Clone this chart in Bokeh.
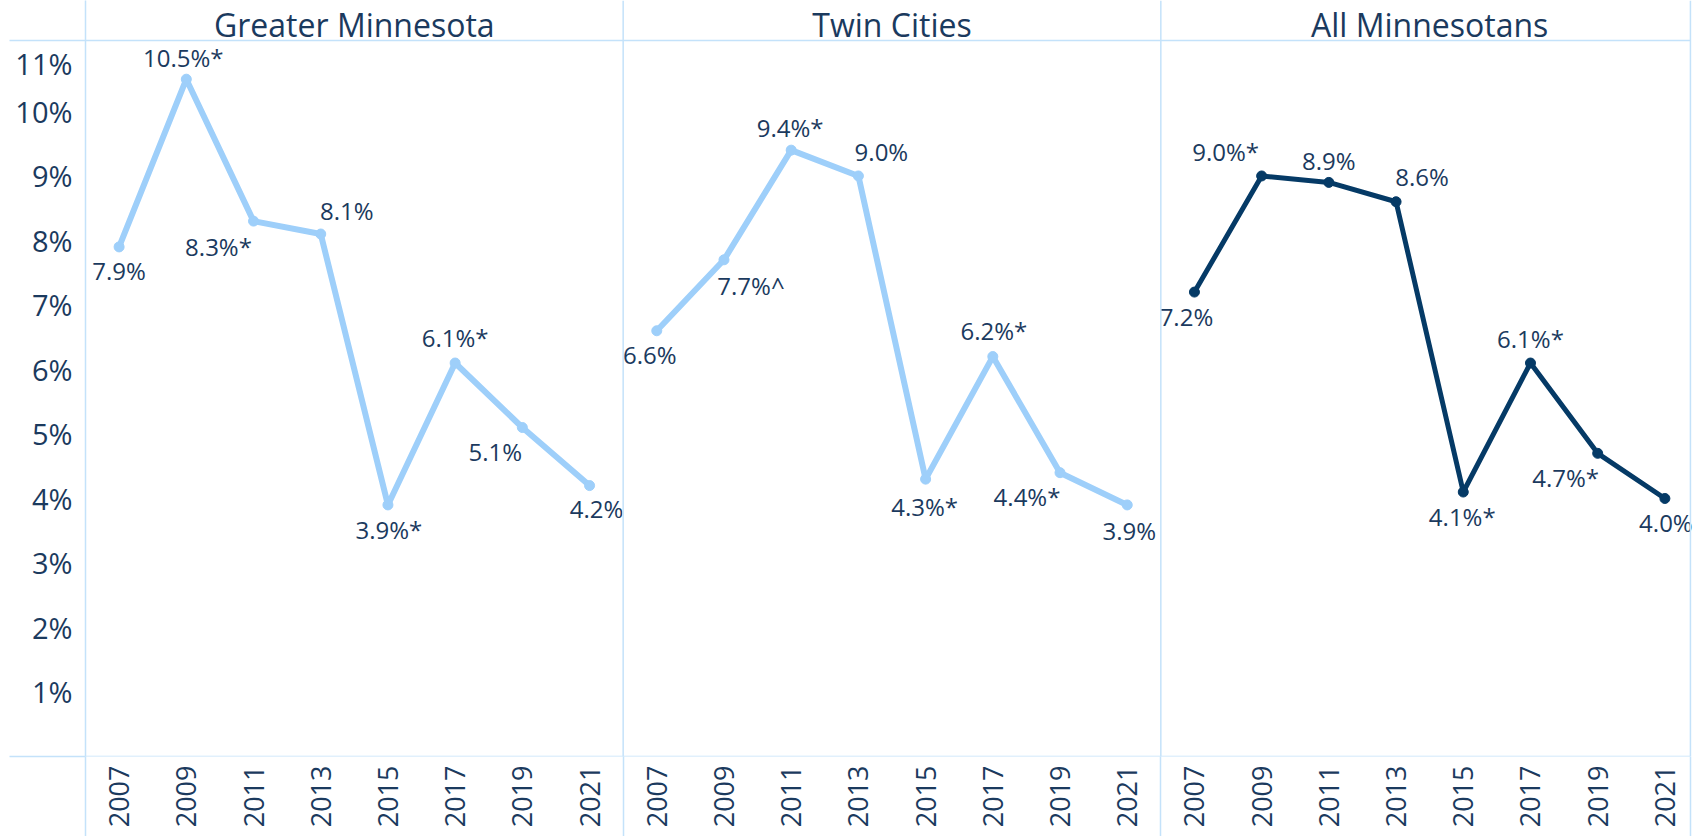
import math
from bokeh.plotting import figure
from bokeh.models import (FixedTicker, Span, ColumnDataSource, Range1d)
from bokeh.core.properties import value
from bokeh.embed import file_html
from bokeh.resources import INLINE

# ---------------- data ----------------
years = ["2007", "2009", "2011", "2013", "2015", "2017", "2019", "2021"]
regions = ["Greater Minnesota", "Twin Cities", "All Minnesotans"]

greater_mn = [7.9, 10.5, 8.3, 8.1, 3.9, 6.1, 5.1, 4.2]
twin_cities = [6.6, 7.7, 9.4, 9.0, 4.3, 6.2, 4.4, 3.9]
all_mn = [7.2, 9.0, 8.9, 8.6, 4.1, 6.1, 4.7, 4.0]

greater_mn_flags = ["", "*", "*", "", "*", "*", "", ""]
twin_cities_flags = ["", "^", "*", "", "*", "*", "*", ""]
all_mn_flags = ["", "*", "", "", "*", "*", "*", ""]

y_ticks = [1, 2, 3, 4, 5, 6, 7, 8, 9, 10, 11]

# ---------------- styling ----------------
LIGHT = "#9ECFFA"
DARK = "#053A66"
TEXT = "#1B3A5E"
RULE = "#C4E2FA"
FONT = "Open Sans"

# label placement (screen px offsets from each point)
gm_dx = [0, -3, -35, 26, 1, 0, -27, 7]
gm_dy = [24, -22, 25, -24, 25, -26, 24, 23]
tc_dx = [-7, 27, -1, 23, -1, 1, -33, 2]
tc_dy = [24, 26, -23, -24, 27, -26, 24, 26]
am_dx = [-8, -36, 0, 26, -1, 0, -32, 1]
am_dy = [24, -24, -22, -25, 24, -25, 24, 24]

series = [
    (greater_mn, greater_mn_flags, LIGHT, 6, gm_dx, gm_dy),
    (twin_cities, twin_cities_flags, LIGHT, 6, tc_dx, tc_dy),
    (all_mn, all_mn_flags, DARK, 5, am_dx, am_dy),
]

n = len(years)
Y_RULE = 11.10     # top rule of the plotting area
Y_END = 11.72      # frame also holds the panel titles above the rule
X_EDGE = 23.88     # the last panel is slightly cut at the right, as in the original
X_END = 24.0       # a little room past the edge so the last label is not clipped

p = figure(width=1702, height=836, x_range=Range1d(0, X_END), y_range=Range1d(0, Y_END),
           output_backend="svg", toolbar_location=None,
           min_border_left=85, min_border_right=4, min_border_top=0, min_border_bottom=80)
p.title.visible = False
p.grid.visible = False
p.outline_line_color = None
p.background_fill_color = "white"
p.border_fill_color = "white"

dividers = [0, n, 2 * n, X_EDGE]

# ---- x axis: year labels; minor ticks continue the panel rules below the frame
X_RULE_EXT = 90
tick_pos = [k * n + i + 0.5 for k in range(3) for i in range(n)]
p.xaxis.ticker = FixedTicker(ticks=tick_pos, minor_ticks=dividers)
p.xaxis.major_label_overrides = {t: years[j % n] for j, t in enumerate(tick_pos)}
p.xaxis.major_label_orientation = math.pi / 2
p.xaxis.major_label_text_font = FONT
p.xaxis.major_label_text_font_size = "27px"
p.xaxis.major_label_text_color = TEXT
p.xaxis.major_label_standoff = 9 - X_RULE_EXT
p.xaxis.axis_line_color = None
p.xaxis.major_tick_line_color = None
p.xaxis.major_tick_out = 0
p.xaxis.major_tick_in = 0
p.xaxis.minor_tick_line_color = RULE
p.xaxis.minor_tick_line_width = 1.5
p.xaxis.minor_tick_out = X_RULE_EXT
p.xaxis.minor_tick_in = 0

# ---- y axis: percent labels; the top label sits a bit below its tick, as in the original
Y_RULE_EXT = 76
y_tick_pos = [t if t < 11 else 10.75 for t in y_ticks]
p.yaxis.ticker = FixedTicker(ticks=y_tick_pos, minor_ticks=[0, Y_RULE])
p.yaxis.major_label_overrides = {pos: f"{t}%" for pos, t in zip(y_tick_pos, y_ticks)}
p.yaxis.major_label_text_font = FONT
p.yaxis.major_label_text_font_size = "29px"
p.yaxis.major_label_text_color = TEXT
p.yaxis.major_label_standoff = 13 - Y_RULE_EXT
p.yaxis.axis_line_color = RULE
p.yaxis.axis_line_width = 1.5
p.yaxis.major_tick_line_color = None
p.yaxis.major_tick_out = 0
p.yaxis.major_tick_in = 0
p.yaxis.minor_tick_line_color = RULE
p.yaxis.minor_tick_line_width = 1.5
p.yaxis.minor_tick_out = Y_RULE_EXT
p.yaxis.minor_tick_in = 0

# ---- panel rules inside the frame (horizontal rules end at the cut right edge)
for d in dividers[1:]:
    p.add_layout(Span(location=d, dimension="height", line_color=RULE, line_width=1.5))
p.segment(x0=[0, 0], y0=[0, Y_RULE], x1=[X_EDGE, X_EDGE], y1=[0, Y_RULE],
          line_color=RULE, line_width=1.5)

# ---- panel titles
p.text(x=[k * n + n / 2 for k in range(3)], y=[Y_RULE] * 3, text=regions, y_offset=-16,
       text_align="center", text_baseline="middle", text_font=value(FONT),
       text_font_size="32px", text_color=TEXT)

# ---- series
for k, (vals, flags, color, lw, dx, dy) in enumerate(series):
    xs = [k * n + i + 0.5 for i in range(n)]
    src = ColumnDataSource(dict(
        x=xs, y=vals,
        label=[f"{v:.1f}%{f}" for v, f in zip(vals, flags)],
        dx=dx, dy=dy))
    p.line("x", "y", source=src, line_color=color, line_width=lw, line_join="round")
    p.scatter("x", "y", source=src, size=10, fill_color=color, line_color=color)
    p.text("x", "y", text="label", source=src, x_offset="dx", y_offset="dy",
           text_align="center", text_baseline="middle", text_font=value(FONT),
           text_font_size="24px", text_color=TEXT)

open("out.html", "w").write(file_html(p, INLINE))
